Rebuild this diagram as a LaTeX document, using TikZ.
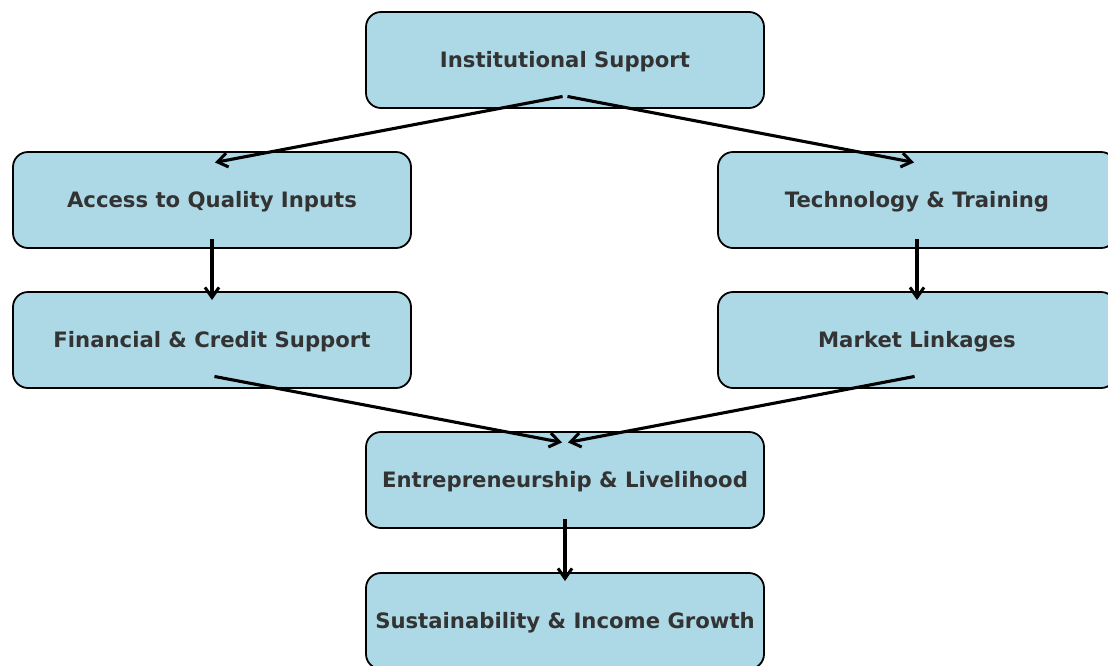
\documentclass[tikz,border=0pt]{standalone}
\usepackage{fontspec}
\setmainfont{DejaVu Sans}
\usetikzlibrary{arrows.meta,calc}
\definecolor{boxfill}{RGB}{173,216,230}
\definecolor{boxtext}{RGB}{51,51,51}
\begin{document}
\begin{tikzpicture}[x=1pt,y=-1pt,
  stage/.style={draw=black, line width=1.8pt, fill=boxfill, rounded corners=15pt,
    minimum width=398pt, minimum height=96pt, inner sep=0pt,
    text height=14pt, text depth=0pt,
    text=boxtext, font=\fontsize{21.2}{25}\selectfont\bfseries},
  flow/.style={line width=3.1pt, -{Straight Barb[length=10pt,width=14pt,line width=3pt]},
    shorten <=2.5pt, shorten >=3pt}]
\useasboundingbox (0,0) rectangle (1108,665);
\clip (0,0) rectangle (1108,665);

% stages of the pathway
\node[stage] (inst) at (565,60)  {Institutional Support};
\node[stage] (inputs) at (212,200) {Access to Quality Inputs};
\node[stage] (tech) at (917,200) {Technology \& Training};
\node[stage] (fin) at (212,340) {Financial \& Credit Support};
\node[stage] (mkt) at (917,340) {Market Linkages};
\node[stage] (ent) at (565,480) {Entrepreneurship \& Livelihood};
\node[stage] (sus) at (565,621) {Sustainability \& Income Growth};

% links between stages
\draw[flow] ($(inst.center)+(0,36)$) -- ($(inputs.center)+(0,-37)$);
\draw[flow] ($(inst.center)+(0,36)$) -- ($(tech.center)+(0,-37)$);
\draw[flow] ($(inputs.center)+(0,36)$) -- ($(fin.center)+(0,-37)$);
\draw[flow] ($(tech.center)+(0,36)$) -- ($(mkt.center)+(0,-37)$);
\draw[flow] ($(fin.center)+(0,36)$) -- ($(ent.center)+(0,-37)$);
\draw[flow] ($(mkt.center)+(0,36)$) -- ($(ent.center)+(0,-37)$);
\draw[flow] ($(ent.center)+(0,36)$) -- ($(sus.center)+(0,-37)$);
\end{tikzpicture}
\end{document}
